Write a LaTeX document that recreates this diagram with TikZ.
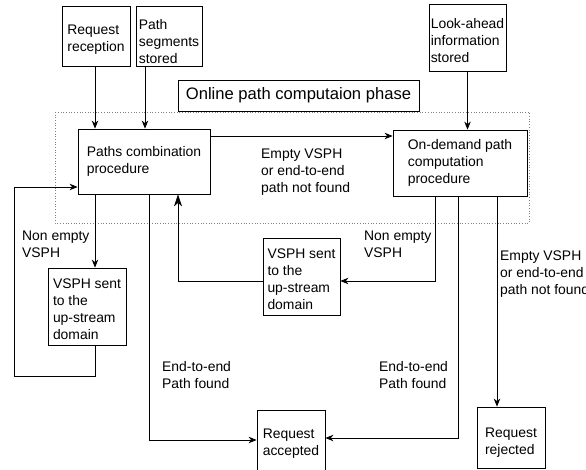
\documentclass[tikz,border=0pt]{standalone}
\usepackage{fontspec}
\setmainfont{Liberation Sans}
\usetikzlibrary{arrows.meta,calc}
\newcommand{\topgap}[1]{\rule{0pt}{#1pt}}
\begin{document}
\begin{tikzpicture}[x=1pt,y=-1pt,
  font=\fontsize{13.9}{17}\selectfont,
  box/.style={draw, line width=0.8pt, align=left, inner sep=0pt},
  lbl/.style={align=left, inner sep=0pt, anchor=west},
  conn/.style={line width=0.8pt},
  arr/.style={-{Stealth[length=8pt,width=6.5pt,inset=2.5pt]}},
  bigarr/.style={-{Stealth[length=12pt,width=8pt,inset=3.5pt]}},
]
\useasboundingbox (0,0) rectangle (586,470);
\draw[dotted, line width=0.7pt, gray] (55,112) rectangle (529,223);

\node[box, minimum width=68pt, minimum height=60pt] (rr) at (96,36) {\topgap{17}Request\\reception};
\node[box, minimum width=66pt, minimum height=60pt] (ps) at (169,36) {\topgap{22}Path\\segments\\stored};
\node[box, minimum width=77pt, minimum height=67pt] (la) at (467.5,37.5) {\topgap{16}Look-ahead\\information\\stored};
\node[box, minimum width=241pt, minimum height=31pt, font=\fontsize{16.6}{20}\selectfont] (title) at (298.5,95.5) {Online path computaion phase};
\node[box, minimum width=132pt, minimum height=65pt] (pc) at (144,161.5) {Paths combination\\procedure};
\node[box, minimum width=134pt, minimum height=66pt] (od) at (460,163) {On-demand path\\computation\\procedure};
\node[box, minimum width=78pt, minimum height=77pt] (vl) at (87,306.5) {\topgap{15}VSPH sent\\to the\\up-stream\\domain};
\node[box, minimum width=77pt, minimum height=77pt] (vm) at (301.5,276.5) {\topgap{15}VSPH sent\\to the\\up-stream\\domain};
\node[box, minimum width=68pt, minimum height=62pt] (ra) at (291,441) {\topgap{15}Request\\accepted};
\node[box, minimum width=68pt, minimum height=61pt] (rj) at (511,437.5) {\topgap{19}Request\\rejected};

\node[lbl] (l1) at (261,172) {Empty VSPH\\or end-to-end\\path not found};
\node[lbl] (l2) at (22,244) {Non empty\\VSPH};
\node[lbl] (l3) at (364,244) {Non empty\\VSPH};
\node[lbl] (l4) at (162,375) {End-to-end\\Path found};
\node[lbl] (l5) at (379,375.5) {End-to-end\\Path found};
\node[lbl] (l6) at (500,274) {Empty VSPH\\or end-to-end\\path not found};

\coordinate (xa) at (95,0);
\coordinate (xb) at (145,0);
\coordinate (xc) at (149,0);
\coordinate (xd) at (178,0);
\coordinate (xe) at (435,0);
\coordinate (xf) at (458,0);
\coordinate (xg) at (497,0);
\coordinate (xh) at (14,0);
\coordinate (ya) at (0,136);
\coordinate (yb) at (0,187);
\coordinate (yc) at (0,376);
\coordinate (yd) at (0,440);
\coordinate (ye) at (0,438);
\coordinate (yf) at (0,281);

\draw[conn,arr] (rr.south -| xa) -- (pc.north -| xa);
\draw[conn,arr] (ps.south -| xb) -- (pc.north -| xb);
\draw[conn,arr] (la.south) -- (od.north -| la.south);
\draw[conn,arr] (pc.east |- ya) -- (od.west |- ya);
\draw[conn,arr] (pc.south -| xa) -- (vl.north -| xa);
\draw[conn,arr] (vl.south -| xa) -- (xa |- yc) -- (xh |- yc) -- (xh |- yb) -- (pc.west |- yb);
\draw[conn,arr] (pc.south -| xc) -- (xc |- yd) -- (ra.west |- yd);
\draw[conn,bigarr] (vm.west |- yf) -- (xd |- yf) -- (pc.south -| xd);
\draw[conn,arr] (od.south -| xe) -- (xe |- yf) -- (vm.east |- yf);
\draw[conn,arr] (od.south -| xf) -- (xf |- ye) -- (ra.east |- ye);
\draw[conn,arr] (od.south -| xg) -- (rj.north -| xg);
\end{tikzpicture}
\end{document}
